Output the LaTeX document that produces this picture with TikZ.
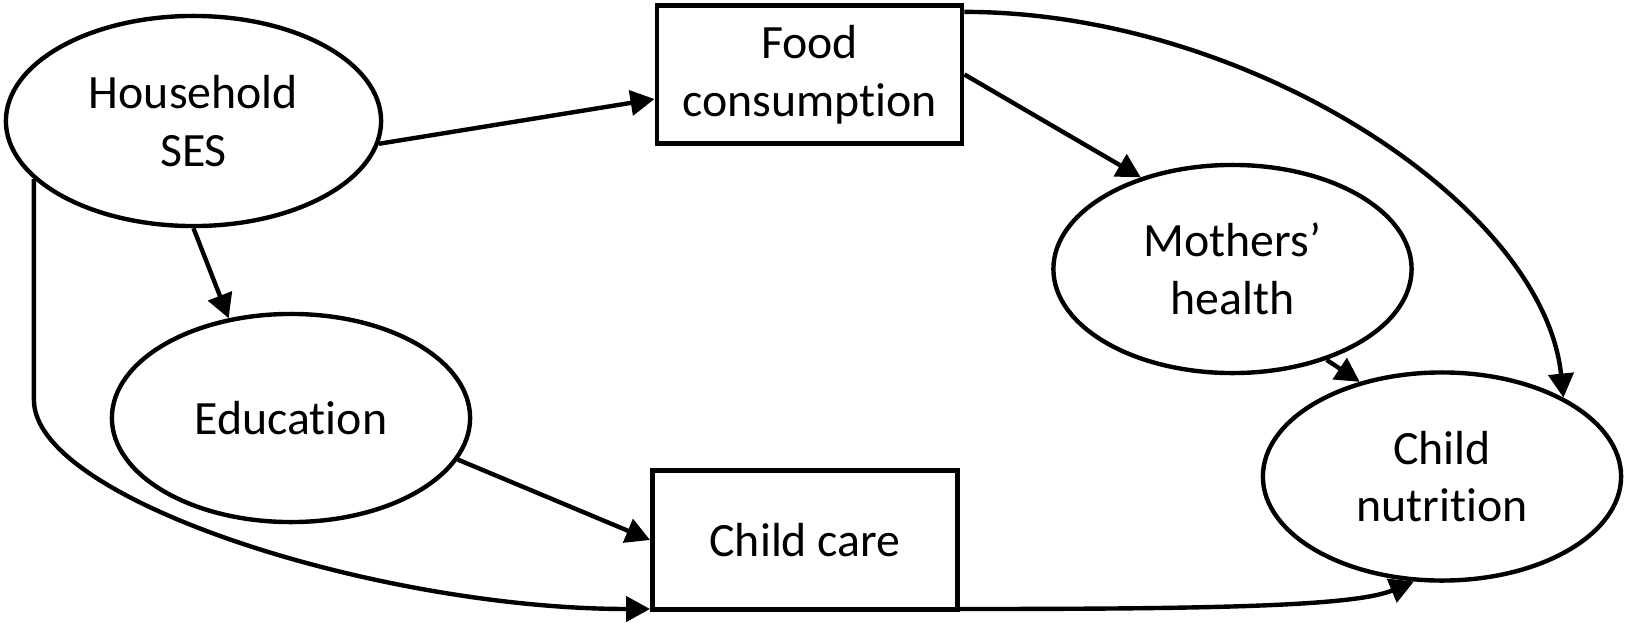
\documentclass[tikz,border=0pt]{standalone}
\usepackage{fontspec}
\setmainfont{Carlito}[Ligatures={TeX,NoCommon}]
\usepackage{tikz}
\usetikzlibrary{shapes.geometric}
\usetikzlibrary{arrows.meta}
\tikzset{oval/.style={ellipse,draw=black,line width=1.25pt,minimum width=3.58cm,minimum height=2.08cm,align=center,inner sep=0pt}}
\tikzset{box/.style={rectangle,draw=black,line width=1.35pt,minimum width=3.05cm,minimum height=1.38cm,align=center,inner sep=0pt}}
\tikzset{line/.style={black,line width=1.25pt,-{Triangle[length=2.4mm,width=2.5mm]}}}

\begin{document}
\begin{tikzpicture}[x=0.01cm,y=-0.01cm,font=\fontsize{13.6}{16.4}\selectfont]
  \useasboundingbox (0,0) rectangle (1626,624);
  % Nodes
  \node[oval,minimum width=3.75cm,minimum height=2.10cm] (hh) at (193.5,121) {Household\\SES};
  \node[oval] (edu) at (291,418) {Education};
  \node[box] (food) at (809.5,74.5) {Food\\consumption};
  \node[box,minimum height=1.39cm] (care) at (805,540) {Child care};
  \node[oval] (moth) at (1232.5,269) {Mothers’\\health};
  \node[oval] (nutr) at (1442,476.5) {Child\\nutrition};

  % Arrows
  \draw[line] (hh.-7) -- (food.189);
  \draw[line] (hh.south) -- (edu.122);
  \draw[line] (hh.200) -- ++(0,221) .. controls +(0,100) and +(-271,0) .. (care.204);
  \draw[line] (edu.-14) -- (care.west);
  \draw[line] (food.east) -- (moth.135);
  \draw[line] (food.22) .. controls +(284,0) and +(-20,-193) .. (nutr.33);
  \draw[line] (moth.-44) -- (nutr.131);
  \draw[line] (care.-24) .. controls +(250,0) and +(-60,25) .. (nutr.255);
\end{tikzpicture}
\end{document}
